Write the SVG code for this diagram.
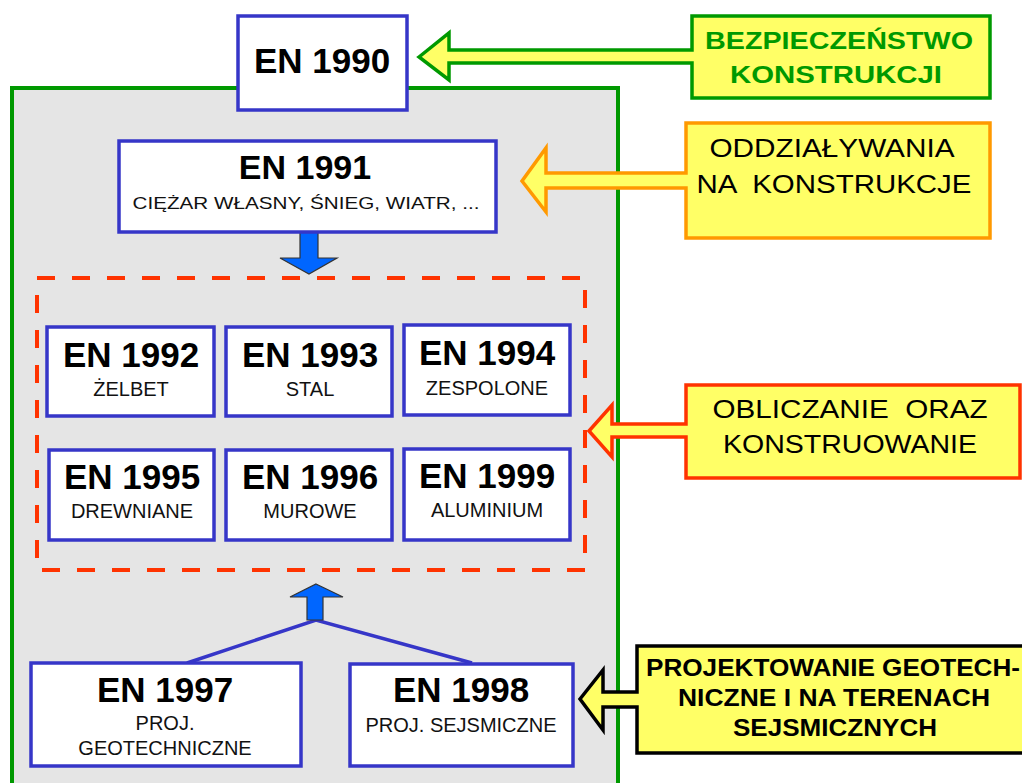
<svg xmlns="http://www.w3.org/2000/svg" width="1022" height="783" viewBox="0 0 1022 783">
<style>
.node{fill:#ffffff;stroke:#3636c8;stroke-width:3.5}
.t{font-family:"Liberation Sans",Arial,sans-serif;text-anchor:middle}
.k{fill:#000}
.g{fill:#009900}
.h{font-weight:bold;font-size:35px;fill:#000}
.s{font-size:20px;fill:#111}
.c{font-size:25px;fill:#000}
.cb{font-size:24px;font-weight:bold}
.call{fill:#ffff66;stroke-width:3.5;stroke-linejoin:miter}
.barrow{fill:#0066ff;stroke:#333;stroke-width:1.2}
</style>
<rect x="0" y="0" width="1022" height="783" fill="#ffffff"/>
<g id="frame">
<rect x="12" y="88" width="606" height="730" fill="#e5e5e5" stroke="#009900" stroke-width="4"/>
<rect x="37" y="278" width="548" height="292" fill="none" stroke="#ff3300" stroke-width="4" stroke-dasharray="18 17"/>
</g>
<g id="connectors">
<path d="M187,663 L316,620 L472,663" fill="none" stroke="#3636c8" stroke-width="3.5"/>
<path class="barrow" d="M300,220 L318,220 L318,258 L337,258 L309,274 L280,258 L300,258 Z"/>
<path class="barrow" d="M316,584 L343,597 L323,597 L323,620 L307,620 L307,597 L290,597 Z"/>
</g>
<g id="n1990">
<rect class="node" x="238" y="16" width="169" height="94"/>
<text class="t h" x="322" y="73">EN 1990</text>
</g>
<g id="n1991">
<rect class="node" x="119" y="141" width="377" height="91"/>
<text class="t h" x="305" y="179" style="font-size:34px">EN 1991</text>
<text class="t s" x="306" y="209" style="font-size:17px" textLength="347" lengthAdjust="spacingAndGlyphs">CIĘŻAR WŁASNY, ŚNIEG, WIATR, ...</text>
</g>
<g id="n1992">
<rect class="node" x="47" y="327" width="167" height="89"/>
<text class="t h" x="131" y="367">EN 1992</text>
<text class="t s" x="131" y="396">ŻELBET</text>
</g>
<g id="n1993">
<rect class="node" x="226" y="327" width="166" height="89"/>
<text class="t h" x="310" y="367">EN 1993</text>
<text class="t s" x="310" y="396">STAL</text>
</g>
<g id="n1994">
<rect class="node" x="404" y="325" width="166" height="90"/>
<text class="t h" x="487" y="365">EN 1994</text>
<text class="t s" x="487" y="395">ZESPOLONE</text>
</g>
<g id="n1995">
<rect class="node" x="49" y="450" width="165" height="90"/>
<text class="t h" x="132" y="489">EN 1995</text>
<text class="t s" x="132" y="518">DREWNIANE</text>
</g>
<g id="n1996">
<rect class="node" x="226" y="450" width="166" height="90"/>
<text class="t h" x="310" y="489">EN 1996</text>
<text class="t s" x="310" y="518">MUROWE</text>
</g>
<g id="n1999">
<rect class="node" x="404" y="449" width="166" height="91"/>
<text class="t h" x="487" y="488">EN 1999</text>
<text class="t s" x="487" y="517">ALUMINIUM</text>
</g>
<g id="n1997">
<rect class="node" x="31" y="663" width="270" height="103"/>
<text class="t h" x="165" y="702">EN 1997</text>
<text class="t s" x="165" y="730">PROJ.</text>
<text class="t s" x="165" y="755">GEOTECHNICZNE</text>
</g>
<g id="n1998">
<rect class="node" x="350" y="664" width="223" height="102"/>
<text class="t h" x="461" y="702">EN 1998</text>
<text class="t s" x="461" y="732">PROJ. SEJSMICZNE</text>
</g>
<g id="callout-safety">
<path class="call" stroke="#009900" d="M419,57 L449,33 L449,50 L692,50 L692,16 L990,16 L990,98 L692,98 L692,63 L449,63 L449,80 Z"/>
<text class="t cb g" x="839" y="49" textLength="268" lengthAdjust="spacingAndGlyphs">BEZPIECZEŃSTWO</text>
<text class="t cb g" x="836" y="83" textLength="212" lengthAdjust="spacingAndGlyphs">KONSTRUKCJI</text>
</g>
<g id="callout-actions">
<path class="call" stroke="#ff9900" d="M522,181 L546,148 L546,173 L686,173 L686,123 L990,123 L990,238 L686,238 L686,188 L546,188 L546,212 Z"/>
<text class="t c" x="832" y="157" textLength="245" lengthAdjust="spacingAndGlyphs">ODDZIAŁYWANIA</text>
<text class="t c" x="834" y="193" textLength="275" lengthAdjust="spacingAndGlyphs" xml:space="preserve">NA  KONSTRUKCJE</text>
</g>
<g id="callout-design">
<path class="call" stroke="#ff3300" d="M589,431 L612,405 L612,424 L686,424 L686,385 L1020,385 L1020,478 L686,478 L686,437 L612,437 L612,457 Z"/>
<text class="t c" x="850" y="418" textLength="275" lengthAdjust="spacingAndGlyphs" xml:space="preserve">OBLICZANIE  ORAZ</text>
<text class="t c" x="850" y="453" textLength="254" lengthAdjust="spacingAndGlyphs">KONSTRUOWANIE</text>
</g>
<g id="callout-geo">
<path class="call" stroke="#000000" stroke-width="4" d="M580,699 L603,670 L603,692 L637,692 L637,646 L1032,646 L1032,753 L637,753 L637,707 L603,707 L603,730 Z"/>
<text class="t cb k" x="833" y="676" textLength="374" lengthAdjust="spacingAndGlyphs">PROJEKTOWANIE GEOTECH-</text>
<text class="t cb k" x="834" y="706" textLength="312" lengthAdjust="spacingAndGlyphs">NICZNE I NA TERENACH</text>
<text class="t cb k" x="835" y="736" textLength="204" lengthAdjust="spacingAndGlyphs">SEJSMICZNYCH</text>
</g>
</svg>
